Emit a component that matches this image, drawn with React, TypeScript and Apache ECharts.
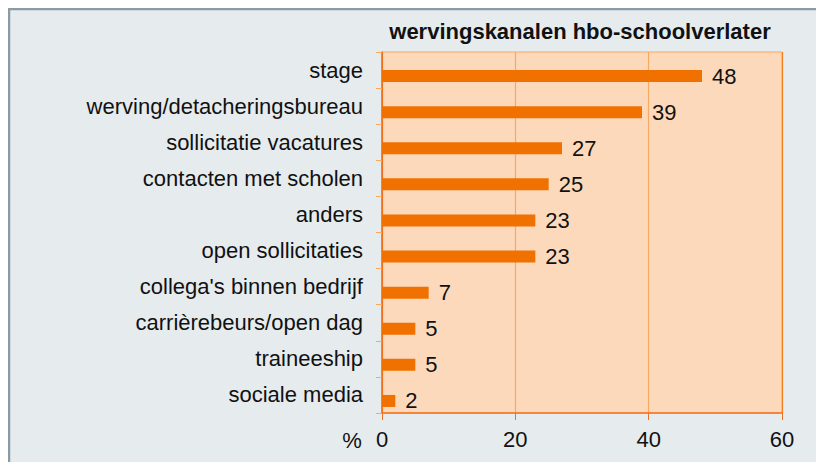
import React, { useEffect, useRef } from "react";
import * as echarts from "echarts";

const categories = [
  "stage",
  "werving/detacheringsbureau",
  "sollicitatie vacatures",
  "contacten met scholen",
  "anders",
  "open sollicitaties",
  "collega's binnen bedrijf",
  "carrièrebeurs/open dag",
  "traineeship",
  "sociale media",
];
const values = [48, 39, 27, 25, 23, 23, 7, 5, 5, 2];
const xTicks = [0, 20, 40, 60];
const titleText = "wervingskanalen hbo-schoolverlater";
const unitText = "%";

const FONT = "Liberation Sans, Arial, Helvetica, sans-serif";
const FS = 22;

export default function App() {
  const ref = useRef<HTMLDivElement>(null);
  useEffect(() => {
    if (!ref.current) return;
    const chart = echarts.init(ref.current, undefined, { renderer: "svg" });
    chart.setOption({
      animation: false,
      textStyle: { fontFamily: FONT },
      graphic: [
        {
          type: "rect",
          z: -10,
          silent: true,
          shape: { x: 1, y: 1, width: 840, height: 480 },
          style: { fill: "#e6ebee", stroke: "#8a9aa6", lineWidth: 2.5 },
        },
        {
          type: "text",
          x: 572,
          y: 23,
          style: {
            text: titleText,
            font: `bold ${FS}px ${FONT}`,
            fill: "#111",
            textAlign: "center",
            textVerticalAlign: "middle",
          },
        },
        {
          type: "text",
          x: 344,
          y: 432,
          style: {
            text: unitText,
            font: `${FS}px ${FONT}`,
            fill: "#111",
            textAlign: "center",
            textVerticalAlign: "middle",
          },
        },
      ],
      grid: {
        left: 374,
        top: 44,
        width: 400,
        height: 361,
        show: true,
        backgroundColor: "#fdd9bb",
        borderColor: "#f9a860",
        borderWidth: 1,
      },
      xAxis: {
        type: "value",
        min: xTicks[0],
        max: xTicks[xTicks.length - 1],
        interval: 20,
        axisLine: { show: true, lineStyle: { color: "#f07020", width: 1.5 } },
        axisTick: { show: true, length: 7, lineStyle: { color: "#f07020" } },
        axisLabel: { fontSize: FS, color: "#111", margin: 15, fontFamily: FONT },
        splitLine: {
          show: true,
          lineStyle: { color: ["#f07020", "#f9a860", "#f9a860", "#f08020"], width: 1.2 },
        },
      },
      yAxis: {
        type: "category",
        data: categories,
        inverse: true,
        axisLine: { show: true, lineStyle: { color: "#f07020", width: 1.5 } },
        axisTick: { show: true, length: 6, lineStyle: { color: "#f9a860" } },
        axisLabel: { fontSize: FS, color: "#111", margin: 19, fontFamily: FONT },
        splitLine: { show: false },
      },
      series: [
        {
          type: "bar",
          data: categories.map(() => 0),
          barWidth: 12,
          barGap: "0%",
          itemStyle: { color: "transparent" },
          silent: true,
        },
        {
          type: "bar",
          data: values,
          barWidth: 12,
          barGap: "0%",
          itemStyle: { color: "#f07000" },
          label: {
            show: true,
            position: "right",
            distance: 10,
            fontSize: FS,
            color: "#111",
            fontFamily: FONT,
          },
        },
      ],
    });
    return () => chart.dispose();
  }, []);
  return <div ref={ref} style={{ width: 816, height: 454 }} />;
}
